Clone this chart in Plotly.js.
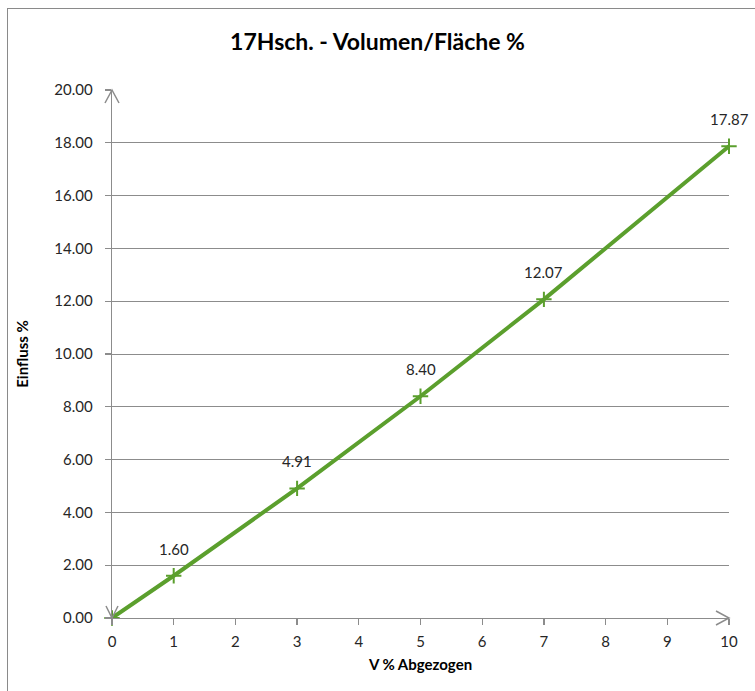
<!DOCTYPE html>
<html>
<head>
<meta charset="utf-8">
<script src="https://cdn.plot.ly/plotly-3.0.1.min.js"></script>
<style>
  html, body { margin: 0; padding: 0; background: #fff; }
  #wrap { position: relative; width: 755px; height: 691px; overflow: hidden; }
  #chart { width: 755px; height: 691px; }
  #frame { position: absolute; left: 7px; top: 8px; width: 760px; height: 700px; border: 1px solid #8a8a8a; pointer-events: none; }
</style>
</head>
<body>
<div id="wrap"><div id="chart"></div><div id="frame"></div></div>
<script>
const xValues = [0, 1, 3, 5, 7, 10];
const yValues = [0, 1.60, 4.91, 8.40, 12.07, 17.87];
const pointLabels = ['', '1.60', '4.91', '8.40', '12.07', '17.87'];
const yTicks = [0, 2, 4, 6, 8, 10, 12, 14, 16, 18, 20];
const yTickText = yTicks.map(v => v.toFixed(2));
const xTicks = [0, 1, 2, 3, 4, 5, 6, 7, 8, 9, 10];

const font = 'Lato, "Open Sans", sans-serif';
const green = '#5b9f2d';
const gray = '#8c8c8c';

const trace = {
  x: xValues, y: yValues, type: 'scatter', mode: 'lines+markers',
  line: { color: green, width: 4 },
  marker: { symbol: 'cross-thin', size: 11, line: { color: green, width: 2 }, color: green },
  hoverinfo: 'none', cliponaxis: false
};

const annotations = xValues.map((x, i) => ({
  x: x, y: yValues[i], xref: 'x', yref: 'y', text: pointLabels[i], showarrow: false,
  yshift: 27, font: { family: font, size: 15, color: '#262626' }
})).filter(a => a.text !== '');

// open chevron arrowheads at the axis ends (anchored in paper fractions of the plot area)
function chevron(xa, ya, path) {
  return { type: 'path', xref: 'paper', yref: 'paper', xsizemode: 'pixel', ysizemode: 'pixel',
    xanchor: xa, yanchor: ya, path: path, line: { color: gray, width: 1.5 }, layer: 'above' };
}
const shapes = [
  chevron(0, 1, 'M -7,-13 L 0,0 L 7,-13'),
  chevron(0, 0, 'M -6,12 L 0,0 L 6,12'),
  chevron(1, 0, 'M -13,7 L 0,0 L -13,-7')
];

const layout = {
  width: 755, height: 691,
  margin: { l: 112, r: 26, t: 90, b: 73 },
  paper_bgcolor: '#fff', plot_bgcolor: '#fff',
  showlegend: false,
  title: { text: '<b>17Hsch. - Volumen/Fläche %</b>', x: 0.5, xanchor: 'center', y: 0.94, yanchor: 'middle',
    font: { family: font, size: 23, color: '#000' } },
  xaxis: {
    range: [0, 10], tickvals: xTicks, ticktext: xTicks.map(String),
    showgrid: false, zeroline: false, showline: true, linecolor: gray, linewidth: 1.3,
    ticks: 'outside', ticklen: 6, tickcolor: gray, tickwidth: 1.3, ticklabelstandoff: 4,
    tickfont: { family: font, size: 15, color: '#262626' },
    title: { text: '<b>V % Abgezogen</b>', font: { family: font, size: 15, color: '#000' }, standoff: 10 }
  },
  yaxis: {
    range: [0, 20], tickvals: yTicks, ticktext: yTickText,
    showgrid: true, gridcolor: gray, gridwidth: 1, zeroline: false,
    showline: true, linecolor: gray, linewidth: 1.3,
    ticks: 'outside', ticklen: 6, tickcolor: gray, tickwidth: 1.3, ticklabelstandoff: 9,
    tickfont: { family: font, size: 15, color: '#262626' },
    title: { text: '<b>Einfluss %</b>', font: { family: font, size: 15, color: '#000' }, standoff: 22 }
  },
  annotations: annotations,
  shapes: shapes
};

Plotly.newPlot('chart', [trace], layout, { displayModeBar: false, staticPlot: true });
</script>
</body>
</html>
